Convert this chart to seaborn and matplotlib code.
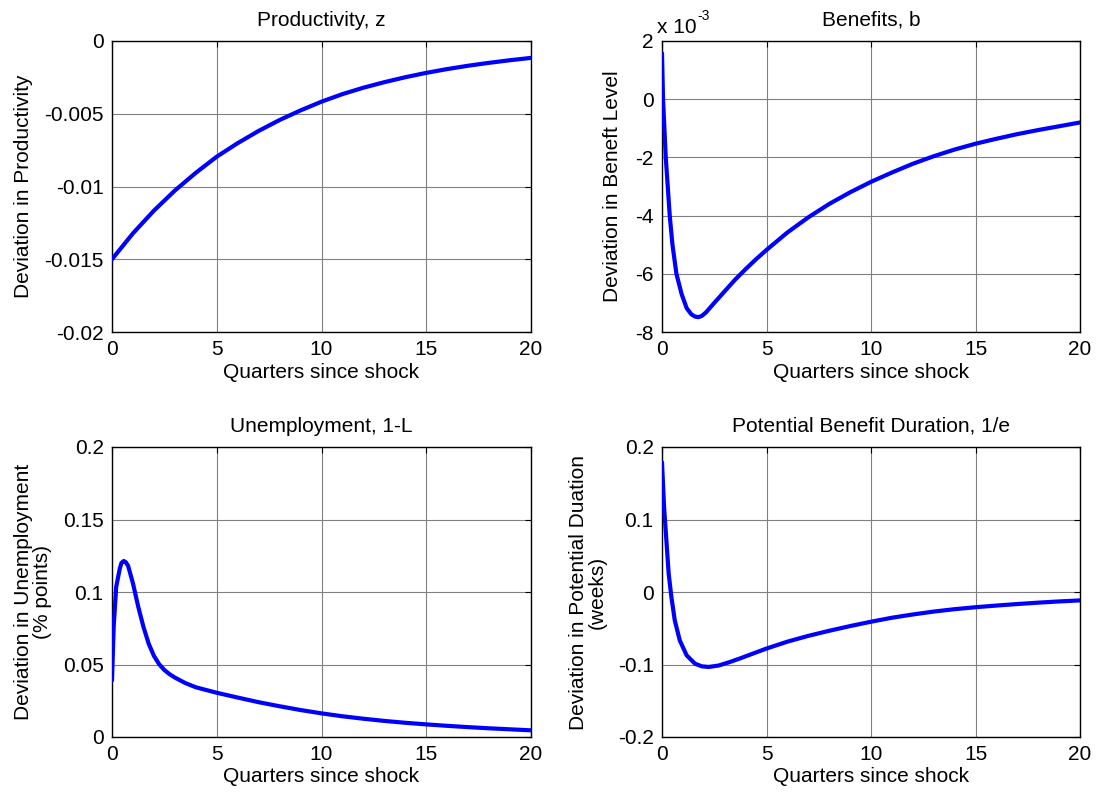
import numpy as np
import pandas as pd
import matplotlib
matplotlib.use("Agg")
import matplotlib.pyplot as plt
from matplotlib.ticker import FuncFormatter, FixedLocator
import seaborn as sns

# ---------------- data ----------------
quarters_z = [0, 1, 2, 3, 4, 5, 6, 7, 8, 9, 10, 11, 12, 13, 14, 15, 16, 17, 18, 19, 20]
productivity = [-0.01500, -0.01322, -0.01166, -0.01028, -0.00906, -0.00795, -0.00702,
                -0.00618, -0.00543, -0.00477, -0.00417, -0.00365, -0.00321, -0.00283,
                -0.00249, -0.00219, -0.00193, -0.00170, -0.00150, -0.00132, -0.00116]

quarters_b = [0, 0.05, 0.18, 0.37, 0.5, 0.69, 0.94, 1.18, 1.4, 1.58, 1.74, 1.9, 2.1, 2.5,
              3, 3.5, 4, 4.5, 5, 6, 7, 8, 9, 10, 11, 12, 13, 14, 15, 16, 17, 18, 19, 20]
benefits = [1.58e-3, 0.0e-3, -2.0e-3, -4.0e-3, -5.0e-3, -6.0e-3, -6.7e-3, -7.18e-3,
            -7.39e-3, -7.47e-3, -7.49e-3, -7.45e-3, -7.33e-3, -7.0e-3, -6.6e-3, -6.2e-3,
            -5.84e-3, -5.5e-3, -5.18e-3, -4.58e-3, -4.06e-3, -3.6e-3, -3.2e-3, -2.84e-3,
            -2.52e-3, -2.22e-3, -1.96e-3, -1.73e-3, -1.53e-3, -1.36e-3, -1.2e-3, -1.06e-3,
            -0.93e-3, -0.8e-3]

quarters_u = [0, 0.08, 0.2, 0.37, 0.45, 0.56, 0.66, 0.77, 1.0, 1.25, 1.5, 1.75, 2.0, 2.25,
              2.5, 2.75, 3, 3.5, 4, 5, 6, 7, 8, 9, 10, 11, 12, 13, 14, 15, 16, 17, 18,
              19, 20]
unemployment = [0.039, 0.076, 0.1035, 0.116, 0.120, 0.1214, 0.1205, 0.118, 0.106, 0.090,
                0.076, 0.0644, 0.0560, 0.0502, 0.0462, 0.0433, 0.0410, 0.0372, 0.0343,
                0.0305, 0.0272, 0.0240, 0.0212, 0.0186, 0.0163, 0.0143, 0.0126, 0.0111,
                0.0098, 0.0087, 0.0077, 0.0068, 0.0060, 0.0053, 0.0046]

quarters_e = [0, 0.1, 0.21, 0.32, 0.45, 0.61, 0.85, 1.18, 1.58, 1.9, 2.23, 2.7, 3.2, 3.7,
              4.3, 5, 6, 7, 8, 9, 10, 11, 12, 13, 14, 15, 16, 17, 18, 19, 20]
duration = [0.179, 0.117, 0.071, 0.025, -0.007, -0.039, -0.0667, -0.0874, -0.0989, -0.1025,
            -0.1034, -0.1015, -0.097, -0.092, -0.0855, -0.078, -0.0685, -0.0605, -0.0535,
            -0.0470, -0.0410, -0.0355, -0.0310, -0.0270, -0.0237, -0.0210, -0.0187,
            -0.0166, -0.0147, -0.0130, -0.0116]

x_ticks = [0, 5, 10, 15, 20]
titles = ["Productivity, z", "Benefits, b", "Unemployment, 1-L",
          "Potential Benefit Duration, 1/e"]
ylabels = ["Deviation in Productivity", "Deviation in Beneft Level",
           "Deviation in Unemployment\n(% points)",
           "Deviation in Potential Duation\n(weeks)"]
xlabel = "Quarters since shock"
y_ticks = [[0, -0.005, -0.01, -0.015, -0.02],
           [2e-3, 0, -2e-3, -4e-3, -6e-3, -8e-3],
           [0, 0.05, 0.1, 0.15, 0.2],
           [0.2, 0.1, 0, -0.1, -0.2]]
y_limits = [(-0.02, 0), (-8e-3, 2e-3), (0, 0.2), (-0.2, 0.2)]

# ---------------- style ----------------
sns.set_style("white")
plt.rcParams['font.family'] = ['Liberation Sans', 'DejaVu Sans']
plt.rcParams['axes.unicode_minus'] = False
for k in ['text.color', 'axes.labelcolor', 'xtick.color', 'ytick.color']:
    plt.rcParams[k] = 'black'

FS = 15
fig = plt.figure(figsize=(10.99, 7.97), dpi=100)
W, H = 1099, 797
boxes = [(112, 41, 531, 332), (662, 41, 1080, 332),
         (112, 447, 531, 737), (662, 447, 1080, 737)]
axes = [fig.add_axes([l / W, 1 - b / H, (r - l) / W, (b - t) / H]) for (l, t, r, b) in boxes]

series = [(quarters_z, productivity), (quarters_b, benefits),
          (quarters_u, unemployment), (quarters_e, duration)]

def gfmt(v, pos):
    s = "%g" % v
    if s == "-0":
        s = "0"
    return s

def bfmt(v, pos):
    s = "%g" % round(v * 1e3, 6)
    if s == "-0":
        s = "0"
    return s

ylabel_x = [-0.189, -0.096, -0.143, -0.132]

for i, ax in enumerate(axes):
    xs, ys = series[i]
    df = pd.DataFrame({"x": xs, "y": ys})
    sns.lineplot(data=df, x="x", y="y", ax=ax, color="#0000FF", linewidth=3.0,
                 zorder=3)
    ax.set_xlim(0, 20)
    ax.set_ylim(*y_limits[i])
    ax.xaxis.set_major_locator(FixedLocator(x_ticks))
    ax.yaxis.set_major_locator(FixedLocator(y_ticks[i]))
    ax.xaxis.set_major_formatter(FuncFormatter(gfmt))
    ax.yaxis.set_major_formatter(FuncFormatter(bfmt if i == 1 else gfmt))
    ax.grid(True, color="#808080", linewidth=0.8, linestyle="-")
    ax.set_axisbelow(True)
    for sp in ax.spines.values():
        sp.set_visible(True)
        sp.set_color("black")
        sp.set_linewidth(1.0)
    ax.tick_params(axis="both", direction="in", length=4, width=0.8, color="black",
                   labelcolor="black", labelsize=FS, top=True, right=True, pad=6)
    ax.set_title(titles[i], fontsize=FS, pad=11, color="black")
    ax.set_xlabel(xlabel, fontsize=FS, color="black")
    ax.set_ylabel(ylabels[i], fontsize=FS, linespacing=1.0, color="black")
    ax.xaxis.set_label_coords(0.5, -0.105)
    ax.yaxis.set_label_coords(ylabel_x[i], 0.5)

axes[1].text(-0.012, 1.027, "x 10", transform=axes[1].transAxes,
             fontsize=FS, ha="left", va="baseline", color="black")
axes[1].text(0.084, 1.072, "-3", transform=axes[1].transAxes,
             fontsize=10, ha="left", va="baseline", color="black")

fig.savefig("out.png", dpi=100)
